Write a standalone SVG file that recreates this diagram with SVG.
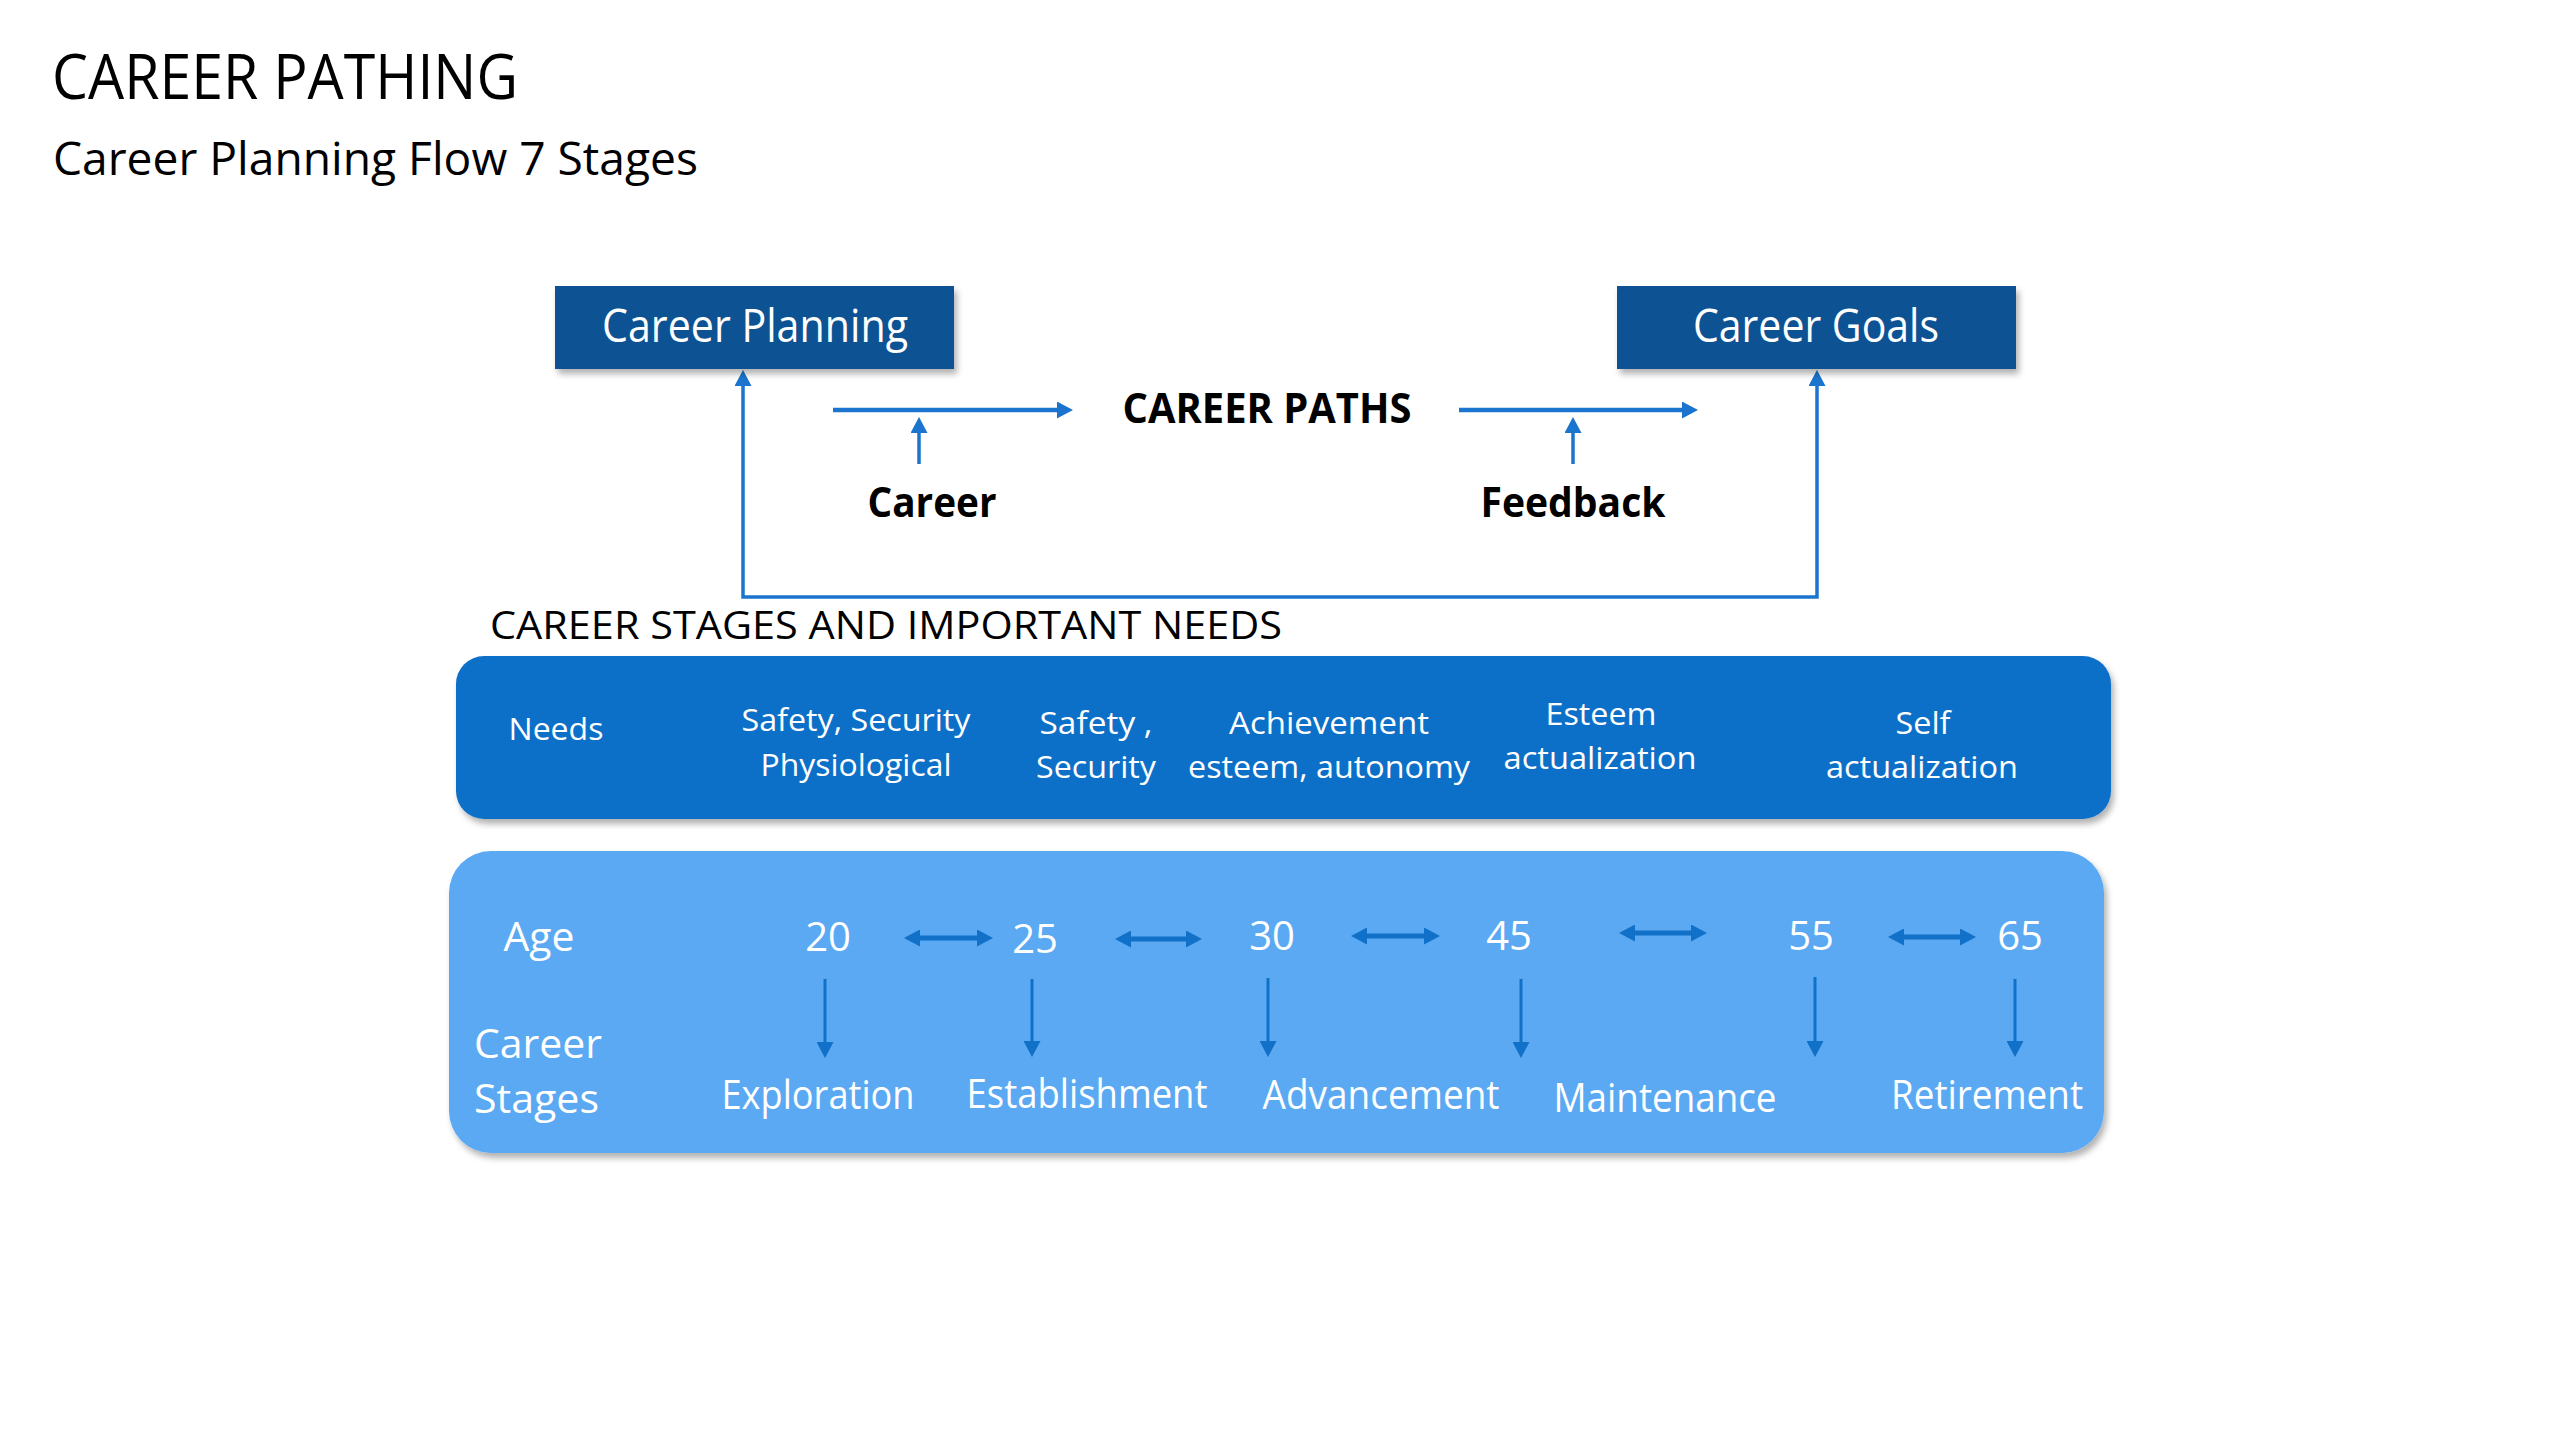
<svg xmlns="http://www.w3.org/2000/svg" width="2560" height="1440" viewBox="0 0 2560 1440">
<style>
text{font-family:"Open Sans","Noto Sans","Liberation Sans",sans-serif}
.blk{fill:#000}
.wht{fill:#fff}
.bold{font-weight:bold}
.mid{text-anchor:middle}
.dark{fill:#0f5394}
.needs{fill:#1170c8}
.age{fill:#5aa9f2}
.la{stroke:#1b74cd;fill:none;stroke-width:3.5}
.lh{stroke:#1b74cd;fill:none;stroke-width:4.5}
.dbl{stroke:#1170c8;fill:none;stroke-width:5}
.dn{stroke:#1170c8;fill:none;stroke-width:3}
</style>
<defs>
<filter id="sh" x="-5%" y="-10%" width="110%" height="130%">
<feDropShadow dx="3" dy="5" stdDeviation="3" flood-color="#000" flood-opacity="0.3"/>
</filter>
<marker id="ahA" markerUnits="userSpaceOnUse" markerWidth="16" markerHeight="17" refX="4" refY="8.5" orient="auto-start-reverse">
<path d="M0,0 L16,8.5 L0,17 z" fill="#1b74cd"/>
</marker>
<marker id="ahB" markerUnits="userSpaceOnUse" markerWidth="16" markerHeight="17" refX="4" refY="8.5" orient="auto-start-reverse">
<path d="M0,0 L16,8.5 L0,17 z" fill="#1170c8"/>
</marker>
</defs>

<g id="title">
<text x="52" y="99" font-size="62" textLength="466" lengthAdjust="spacingAndGlyphs" class="blk">CAREER PATHING</text>
<text x="53" y="175" font-size="45" textLength="645" lengthAdjust="spacingAndGlyphs" class="blk">Career Planning Flow 7 Stages</text>
</g>

<g id="connectors">
<path class="la" d="M743,382 V597 H1817 V382" marker-start="url(#ahA)" marker-end="url(#ahA)"/>
<path class="lh" d="M833,410 H1061" marker-end="url(#ahA)"/>
<path class="lh" d="M1459,410 H1686" marker-end="url(#ahA)"/>
<path class="la" d="M919,464 V429" marker-end="url(#ahA)"/>
<path class="la" d="M1573,464 V429" marker-end="url(#ahA)"/>
</g>

<g id="career-planning">
<rect x="555" y="286" width="399" height="83" class="dark" filter="url(#sh)"/>
<text x="755" y="342" font-size="45" textLength="306" lengthAdjust="spacingAndGlyphs" class="wht mid">Career Planning</text>
</g>
<g id="career-goals">
<rect x="1617" y="286" width="399" height="83" class="dark" filter="url(#sh)"/>
<text x="1816" y="342" font-size="45" textLength="246" lengthAdjust="spacingAndGlyphs" class="wht mid">Career Goals</text>
</g>
<g id="career-paths">
<text x="1267" y="423" font-size="42" textLength="289" lengthAdjust="spacingAndGlyphs" class="blk bold mid">CAREER PATHS</text>
</g>
<g id="career">
<text x="932" y="517" font-size="41" textLength="129" lengthAdjust="spacingAndGlyphs" class="blk bold mid">Career</text>
</g>
<g id="feedback">
<text x="1573" y="517" font-size="41" textLength="185" lengthAdjust="spacingAndGlyphs" class="blk bold mid">Feedback</text>
</g>

<g id="stages-heading">
<text x="490" y="639" font-size="38" textLength="792" lengthAdjust="spacingAndGlyphs" class="blk">CAREER STAGES AND IMPORTANT NEEDS</text>
</g>

<g id="needs-box">
<rect x="456" y="656" width="1655" height="163" rx="28" ry="28" class="needs" filter="url(#sh)"/>
<g font-size="31">
<text x="556" y="740" textLength="95" lengthAdjust="spacingAndGlyphs" class="wht mid">Needs</text>
<text x="856" y="731" textLength="229" lengthAdjust="spacingAndGlyphs" class="wht mid">Safety, Security</text>
<text x="856" y="776" textLength="191" lengthAdjust="spacingAndGlyphs" class="wht mid">Physiological</text>
<text x="1096" y="734" textLength="113" lengthAdjust="spacingAndGlyphs" class="wht mid">Safety ,</text>
<text x="1096" y="778" textLength="120" lengthAdjust="spacingAndGlyphs" class="wht mid">Security</text>
<text x="1329" y="734" textLength="200" lengthAdjust="spacingAndGlyphs" class="wht mid">Achievement</text>
<text x="1329" y="778" textLength="282" lengthAdjust="spacingAndGlyphs" class="wht mid">esteem, autonomy</text>
<text x="1601" y="725" textLength="111" lengthAdjust="spacingAndGlyphs" class="wht mid">Esteem</text>
<text x="1600" y="769" textLength="193" lengthAdjust="spacingAndGlyphs" class="wht mid">actualization</text>
<text x="1923" y="734" textLength="55" lengthAdjust="spacingAndGlyphs" class="wht mid">Self</text>
<text x="1922" y="778" textLength="192" lengthAdjust="spacingAndGlyphs" class="wht mid">actualization</text>
</g>
</g>

<g id="age-box">
<rect x="449" y="851" width="1655" height="302" rx="42" ry="42" class="age" filter="url(#sh)"/>
<g font-size="40">
<text x="539" y="951" textLength="71" lengthAdjust="spacingAndGlyphs" class="wht mid">Age</text>
<text x="828" y="951" class="wht mid">20</text>
<text x="1035" y="953" class="wht mid">25</text>
<text x="1272" y="950" class="wht mid">30</text>
<text x="1509" y="950" class="wht mid">45</text>
<text x="1811" y="950" class="wht mid">55</text>
<text x="2020" y="950" class="wht mid">65</text>
<text x="474" y="1058" textLength="128" lengthAdjust="spacingAndGlyphs" class="wht">Career</text>
<text x="474" y="1113" textLength="125" lengthAdjust="spacingAndGlyphs" class="wht">Stages</text>
<text x="818" y="1109" textLength="193" lengthAdjust="spacingAndGlyphs" class="wht mid">Exploration</text>
<text x="1087" y="1108" textLength="241" lengthAdjust="spacingAndGlyphs" class="wht mid">Establishment</text>
<text x="1381" y="1109" textLength="237" lengthAdjust="spacingAndGlyphs" class="wht mid">Advancement</text>
<text x="1665" y="1112" textLength="223" lengthAdjust="spacingAndGlyphs" class="wht mid">Maintenance</text>
<text x="1987" y="1109" textLength="192" lengthAdjust="spacingAndGlyphs" class="wht mid">Retirement</text>
</g>
</g>

<g id="age-connectors">
<path class="dbl" d="M916,938 H981" marker-start="url(#ahB)" marker-end="url(#ahB)"/>
<path class="dbl" d="M1127,939 H1190" marker-start="url(#ahB)" marker-end="url(#ahB)"/>
<path class="dbl" d="M1363,936 H1428" marker-start="url(#ahB)" marker-end="url(#ahB)"/>
<path class="dbl" d="M1631,933 H1695" marker-start="url(#ahB)" marker-end="url(#ahB)"/>
<path class="dbl" d="M1900,937 H1964" marker-start="url(#ahB)" marker-end="url(#ahB)"/>
<path class="dn" d="M825,979 V1046" marker-end="url(#ahB)"/>
<path class="dn" d="M1032,979 V1045" marker-end="url(#ahB)"/>
<path class="dn" d="M1268,978 V1045" marker-end="url(#ahB)"/>
<path class="dn" d="M1521,979 V1046" marker-end="url(#ahB)"/>
<path class="dn" d="M1815,977 V1045" marker-end="url(#ahB)"/>
<path class="dn" d="M2015,979 V1045" marker-end="url(#ahB)"/>
</g>
</svg>
